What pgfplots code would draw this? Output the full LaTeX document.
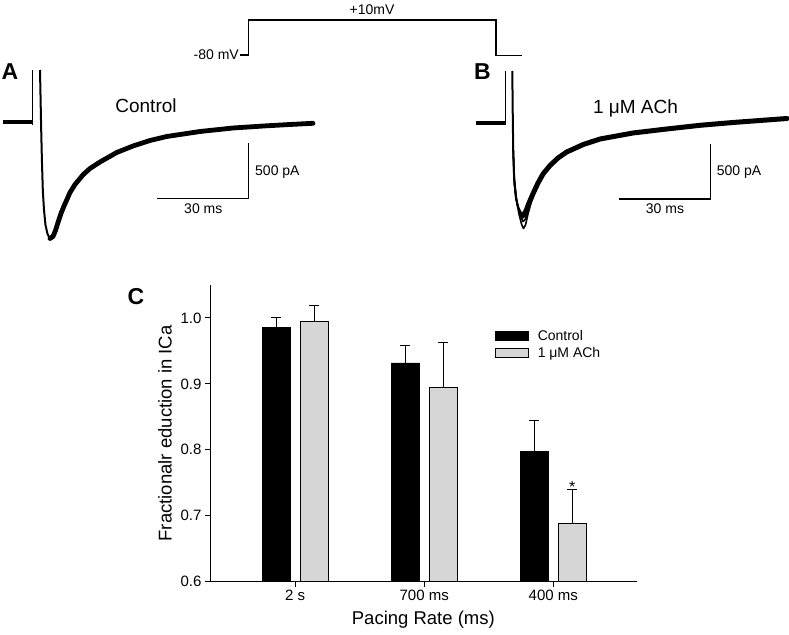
\documentclass[border=0pt]{standalone}
\usepackage{pgfplots}
\pgfplotsset{compat=1.18}
\usepackage{fontspec}
\setmainfont{Liberation Sans}
\newcommand{\fs}[1]{\fontsize{#1}{#1}\selectfont}
\pgfplotsset{boxlegend/.style={legend image code/.code={\draw[##1, line width=1pt] (0pt,-4.5pt) rectangle (33pt,4.5pt);}}}
\begin{document}
\begin{tikzpicture}
\useasboundingbox (0,0) rectangle (789pt,634pt);
% ---------- panels A and B (pixel coordinates, y downwards) ----------
\begin{axis}[at={(0pt,0pt)}, anchor=south west, scale only axis,
  width=789pt, height=634pt, xmin=0, xmax=789, ymin=0, ymax=634,
  y dir=reverse, hide axis, clip=false]
% voltage protocol
\addplot[black, line width=1.3pt] coordinates {(240,55) (248.3,55) (248.3,20) (496,20) (496,55.7) (521.7,55.7)};
% Panel A trace
\addplot[black, line width=4pt] coordinates {(2.5,122.5) (31.7,122.5)};
\addplot[black, line width=1pt] coordinates {(32.3,125) (32.3,70)};
\addplot[black, line width=2pt, line join=round] coordinates {(40,70) (40.6,100) (41.2,130) (41.9,160) (42.8,190) (44,210) (45.5,225) (47.5,234) (50,238.5)};
\addplot[black, line width=4.8pt, line join=round, line cap=round] coordinates {(50,238.5) (53,236.5) (55.5,230.5) (58,222.5) (61,213.5) (64,206) (66.7,200) (70,192.5) (75,184.5) (80,178.5) (83.3,174.5) (90,168.5) (100,162) (116.7,152.5) (133,146) (150,140.5) (166.7,136.5) (200,131.5) (233,128) (266.7,125.8) (290,124.5) (313,123.3)};
% scale bar A
\addplot[black, line width=1.3pt] coordinates {(157.3,198.3) (248.3,198.3) (248.3,143.3)};
% Panel B trace
\addplot[black, line width=4pt] coordinates {(476,123.3) (504.5,123.3)};
\addplot[black, line width=1pt] coordinates {(505,125) (505,71)};
\addplot[black, line width=2pt, line join=round] coordinates {(512.3,71) (512.7,110) (513.2,150) (514.2,180) (515.8,197) (518,207) (521,213) (523.5,215)};
\addplot[black, line width=5pt, line join=round, line cap=round] coordinates {(523.5,215) (526,211) (529,203) (533.3,193) (538,183) (543,174) (550,165.5) (558,158) (566.7,152) (583.3,144.5) (600,139) (633,133) (666.7,129) (700,125.3) (733,122.5) (766.7,120) (787,118.5)};
\addplot[black, line width=1.6pt, line join=round] coordinates {(513.2,150) (514,178) (516,198) (519,214) (521.5,224) (523.5,228.5) (525.5,225) (528,214) (531,203) (535,192) (540,180)};
\addplot[black, line width=1.6pt, line join=round] coordinates {(513.2,150) (514.5,185) (517,203) (520,215) (523,221.5) (525.5,219) (528.5,209) (532,198) (537,186)};
\addplot[black, line width=1.6pt, line join=round] coordinates {(514,175) (516.5,200) (519.5,212) (522.5,218) (525,216) (528,206) (531,197)};
% scale bar B
\addplot[black, line width=1.3pt] coordinates {(619,199) (710.7,199) (710.7,144)};
% texts
\node[font=\fs{14}, anchor=center] at (axis cs:372,10) {+10mV};
\node[font=\fs{14}, anchor=east, inner sep=1pt] at (axis cs:240,55) {-80 mV};
\node[font=\bfseries\fs{23}] at (axis cs:10,72) {A};
\node[font=\bfseries\fs{23}] at (axis cs:482.5,72) {B};
\node[font=\bfseries\fs{23}] at (axis cs:136,297) {C};
\node[font=\fs{19}] at (axis cs:146,106) {Control};
\node[font=\fs{19}] at (axis cs:635.5,108.3) {1 μM ACh};
\node[font=\fs{14}, anchor=west, inner sep=0pt] at (axis cs:255,171.7) {500 pA};
\node[font=\fs{14}] at (axis cs:203.3,208.3) {30 ms};
\node[font=\fs{14}, anchor=west, inner sep=0pt] at (axis cs:716.7,171.7) {500 pA};
\node[font=\fs{14}] at (axis cs:665,208.3) {30 ms};
\end{axis}
% ---------- panel C bar chart ----------
\begin{axis}[at={(210pt,52.3pt)}, anchor=south west, scale only axis,
  width=426.7pt, height=296.7pt,
  xmin=-0.659, xmax=2.646, ymin=0.6, ymax=1.05,
  axis x line=bottom, axis y line=left,
  axis line style={-, line width=1pt},
  xtick={0,1,2}, xticklabels={2 s,700 ms,400 ms},
  ytick={0.6,0.7,0.8,0.9,1.0},
  yticklabel style={/pgf/number format/.cd, fixed, fixed zerofill, precision=1},
  /pgf/number format/assume math mode=true,
  tick align=outside, major tick length=5pt,
  tick style={line width=1pt, black},
  ticklabel style={font=\fs{15}},
  xlabel={Pacing Rate (ms)}, ylabel={Fractionalr eduction in ICa},
  every axis y label/.style={at={(rel axis cs:-0.1055,0.5)}, rotate=90, anchor=center, font=\fs{18.5}},
  every axis x label/.style={at={(rel axis cs:0.5,-0.129)}, anchor=center, font=\fs{18.5}},
  ybar, bar width=28pt,
  legend style={draw=none, fill=none, font=\fs{14}, at={(axis cs:1.545,0.985)}, anchor=north west, inner sep=0pt, row sep=1.5pt,
    /tikz/every odd column/.append style={column sep=7pt}},
  legend cell align=left,
]
\addplot[fill=black, draw=black, bar shift=-19pt, boxlegend,
  error bars/.cd, y dir=plus, y explicit,
  error bar style={line width=1pt, black},
  error mark options={rotate=90, mark size=5pt, line width=1pt, black}]
  coordinates {(0,0.986) +- (0,0.015) (1,0.932) +- (0,0.026) (2,0.798) +- (0,0.046)};
\addlegendentry{Control}
\addplot[fill=black!16, draw=black, line width=1pt, bar shift=19pt, boxlegend,
  error bars/.cd, y dir=plus, y explicit,
  error bar style={line width=1pt, black},
  error mark options={rotate=90, mark size=5pt, line width=1pt, black}]
  coordinates {(0,0.994) +- (0,0.025) (1,0.895) +- (0,0.068) (2,0.688) +- (0,0.052)};
\addlegendentry{1 μM ACh}
\node[font=\fs{16}, anchor=base, inner sep=0pt, xshift=19pt, yshift=-3pt] at (axis cs:2,0.74) {*};
\end{axis}
\end{tikzpicture}
\end{document}
